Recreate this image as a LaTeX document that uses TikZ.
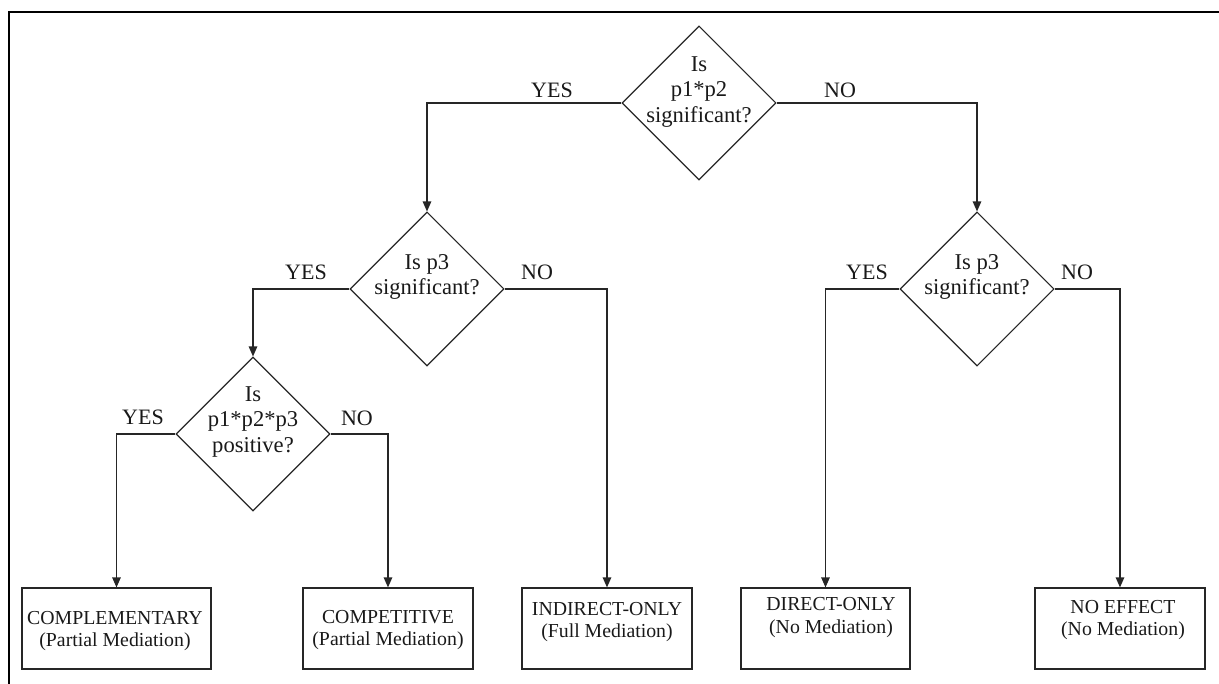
\documentclass[tikz,border=0pt]{standalone}
\usepackage{fontspec}
\setmainfont{Liberation Serif}
\usetikzlibrary{shapes.geometric,arrows.meta,calc}
\begin{document}
\begin{tikzpicture}[x=1pt,y=-1pt,
  dia/.style={draw=black!85, diamond, shape aspect=1, minimum width=154pt, minimum height=154pt, inner sep=0pt, line width=1.1pt},
  dtext/.style={align=center, font=\fontsize{22.6}{25.5}\selectfont, inner sep=0pt, text=black!90},
  outbox/.style={draw=black!85, rectangle, minimum height=81pt, inner sep=0pt, line width=1.2pt},
  btext/.style={align=center, font=\fontsize{19.8}{22.5}\selectfont, inner sep=0pt, text=black!90},
  lbl/.style={font=\fontsize{22}{25}\selectfont, anchor=base, inner sep=0pt, text=black!90},
  conn/.style={draw=black!85, line width=1.2pt, -{Triangle[length=10pt,width=8.5pt]}}
]
\useasboundingbox (0,0) rectangle (1219,684);
\draw[line width=2.3pt] (9,684) -- (9,12) -- (1219,12);

% diamonds
\node[dia] (d1) at (699,103) {};
\node[dia] (d2) at (427,289) {};
\node[dia] (d3) at (977,289) {};
\node[dia] (d4) at (253,434) {};

\node[dtext] (t1) at (699,92) {Is\\p1*p2\\significant?};
\node[dtext] (t2) at (427,277) {Is p3\\significant?};
\node[dtext] (t3) at (977,277) {Is p3\\significant?};
\node[dtext] (t4) at (253,422) {Is\\p1*p2*p3\\positive?};

% boxes
\node[outbox, minimum width=189pt] (b1) at (116.5,628.5) {};
\node[outbox, minimum width=170pt] (b2) at (388,628.5) {};
\node[outbox, minimum width=170pt] (b3) at (607,628.5) {};
\node[outbox, minimum width=169pt] (b4) at (825.5,628.5) {};
\node[outbox, minimum width=170pt] (b5) at (1120,628.5) {};

\node[btext] (bt1) at (115,631) {COMPLEMENTARY\\(Partial Mediation)};
\node[btext] (bt2) at (388,630) {COMPETITIVE\\(Partial Mediation)};
\node[btext] (bt3) at (607,622) {INDIRECT-ONLY\\(Full Mediation)};
\node[btext] (bt4) at (831,617.5) {DIRECT-ONLY\\(No Mediation)};
\node[btext] (bt5) at (1123,620) {NO EFFECT\\(No Mediation)};

% connectors
\draw[conn] (d1.west) -| (d2.north);
\draw[conn] (d1.east) -| (d3.north);
\draw[conn] (d2.west) -| (d4.north);
\draw[conn] (d2.east) -| (b3.north);
\draw[conn] (d4.west) -| (b1.north);
\draw[conn] (d4.east) -| (b2.north);
\draw[conn] (d3.west) -| (b4.north);
\draw[conn] (d3.east) -| (b5.north);

% labels
\node[lbl] (l1) at (552,98) {YES};
\node[lbl] (l2) at (840,98) {NO};
\node[lbl] (l3) at (306,280) {YES};
\node[lbl] (l4) at (537,280) {NO};
\node[lbl] (l5) at (867,280) {YES};
\node[lbl] (l6) at (1077,280) {NO};
\node[lbl] (l7) at (143,425) {YES};
\node[lbl] (l8) at (357,426) {NO};
\end{tikzpicture}
\end{document}
